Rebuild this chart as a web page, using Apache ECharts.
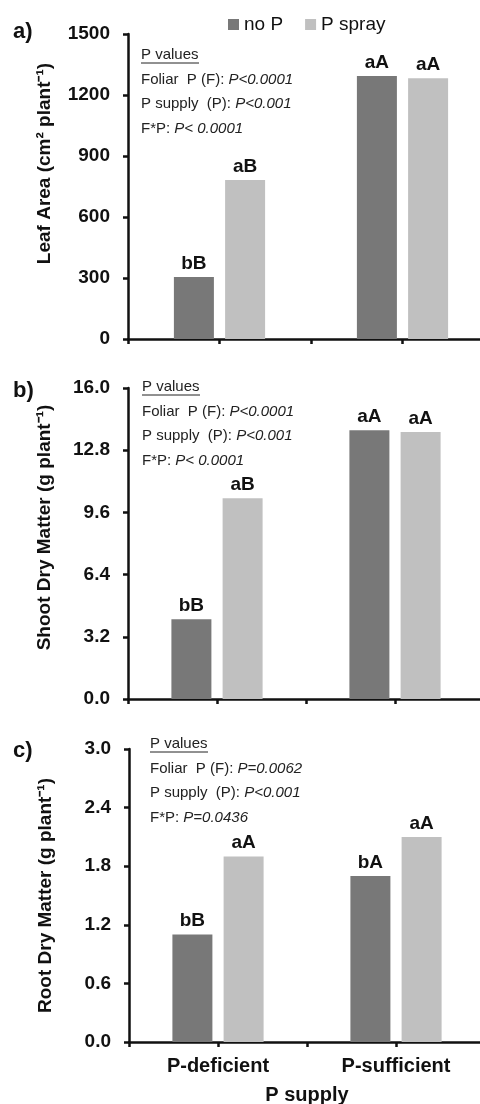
<!DOCTYPE html>
<html>
<head>
<meta charset="utf-8">
<script src="https://cdn.jsdelivr.net/npm/echarts@6/dist/echarts.min.js"></script>
<style>
html,body{margin:0;padding:0;background:#fff;}
#main{width:480px;height:1104px;}
</style>
</head>
<body>
<div id="main"></div>
<script>
// ---- data ----
const categories = ['P-deficient', 'P-sufficient'];
const seriesNames = ['no P', 'P spray'];

const leafNoP = [305, 1293];
const leafSpray = [782, 1282];
const leafLettersNoP = ['bB', 'aA'];
const leafLettersSpray = ['aB', 'aA'];

const shootNoP = [4.1, 13.82];
const shootSpray = [10.33, 13.73];
const shootLettersNoP = ['bB', 'aA'];
const shootLettersSpray = ['aB', 'aA'];

const rootNoP = [1.10, 1.70];
const rootSpray = [1.90, 2.10];
const rootLettersNoP = ['bB', 'bA'];
const rootLettersSpray = ['aA', 'aA'];

const leafAxis = { max: 1500, interval: 300, decimals: 0 };
const shootAxis = { max: 16, interval: 3.2, decimals: 1 };
const rootAxis = { max: 3, interval: 0.6, decimals: 1 };

const pValuesA = ['P<0.0001', 'P<0.001', 'P< 0.0001'];
const pValuesB = ['P<0.0001', 'P<0.001', 'P< 0.0001'];
const pValuesC = ['P=0.0062', 'P<0.001', 'P=0.0436'];

// ---- styles ----
const FONT = '"Liberation Sans", Arial, sans-serif';
const DARK = '#787878';
const LIGHT = '#c0c0c0';
const INK = '#111';

const grids = [
  { left: 128, top: 34, width: 366, height: 305, outerBoundsMode: 'none', containLabel: false },
  { left: 128, top: 388, width: 356, height: 311, outerBoundsMode: 'none', containLabel: false },
  { left: 129, top: 749, width: 356, height: 293, outerBoundsMode: 'none', containLabel: false }
];

const yNames = ['Leaf Area (cm² plant⁻¹)', 'Shoot Dry Matter (g plant⁻¹)', 'Root Dry Matter (g plant⁻¹)'];
const yNameShift = [46, 32, 0];
const yAxesCfg = [leafAxis, shootAxis, rootAxis];

const xAxis = [];
const yAxis = [];
grids.forEach((g, i) => {
  const isLast = i === 2;
  xAxis.push({
    type: 'category', gridIndex: i, data: categories, position: 'bottom',
    boundaryGap: true,
    axisLine: { show: true, lineStyle: { color: INK, width: 2.5 } },
    axisTick: { show: true, alignWithLabel: false, length: 5, lineStyle: { color: INK, width: 2.5 } },
    axisLabel: { show: isLast, fontFamily: FONT, fontWeight: 'bold', fontSize: 20, color: INK, margin: 14 },
    name: isLast ? 'P supply' : '',
    nameLocation: 'middle', nameGap: 43,
    nameTextStyle: { fontFamily: FONT, fontWeight: 'bold', fontSize: 20, color: INK }
  });
  xAxis.push({
    type: 'category', gridIndex: i, data: categories, position: 'bottom',
    boundaryGap: true,
    axisLine: { show: false },
    axisTick: { show: true, alignWithLabel: true, length: 5, lineStyle: { color: INK, width: 2.5 } },
    axisLabel: { show: false }
  });
  const cfg = yAxesCfg[i];
  yAxis.push({
    type: 'value', gridIndex: i, min: 0, max: cfg.max, interval: cfg.interval,
    axisLine: { show: true, lineStyle: { color: INK, width: 2.5 } },
    axisTick: { show: true, length: 5, lineStyle: { color: INK, width: 2.5 } },
    splitLine: { show: false },
    axisLabel: {
      fontFamily: FONT, fontWeight: 'bold', fontSize: 19, color: INK, margin: 18,
      formatter: v => Number(v).toFixed(cfg.decimals)
    },
    name: yNames[i], nameLocation: 'middle', nameGap: 74, nameRotate: 90,
    nameTextStyle: { fontFamily: FONT, fontWeight: 'bold', fontSize: 19, color: INK,
      padding: [0, 0, 0, yNameShift[i]] }
  });
});

function barSeries(name, gridIdx, data, letters, color) {
  return {
    name: name, type: 'bar', xAxisIndex: gridIdx * 2, yAxisIndex: gridIdx,
    data: data, barWidth: 40, barGap: '28%',
    itemStyle: { color: color },
    label: {
      show: true, position: 'top', distance: 4,
      fontFamily: FONT, fontWeight: 'bold', fontSize: 19, color: INK,
      formatter: p => letters[p.dataIndex]
    }
  };
}

const series = [
  barSeries(seriesNames[0], 0, leafNoP, leafLettersNoP, DARK),
  barSeries(seriesNames[1], 0, leafSpray, leafLettersSpray, LIGHT),
  barSeries(seriesNames[0], 1, shootNoP, shootLettersNoP, DARK),
  barSeries(seriesNames[1], 1, shootSpray, shootLettersSpray, LIGHT),
  barSeries(seriesNames[0], 2, rootNoP, rootLettersNoP, DARK),
  barSeries(seriesNames[1], 2, rootSpray, rootLettersSpray, LIGHT)
];

// ---- annotations ----
const graphic = [];
const panelLabels = [['a)', 33], ['b)', 392], ['c)', 752]];
panelLabels.forEach(([t, y]) => {
  graphic.push({ type: 'text', left: 13, top: y - 12,
    style: { text: t, font: 'bold 22px ' + FONT, fill: INK } });
});

function pBlock(x, yTop, vals) {
  const lines = ['Foliar  P (F): ', 'P supply  (P): ', 'F*P: '];
  graphic.push({ type: 'text', x: x, y: yTop, style: {
    text: 'P values', font: '15px ' + FONT, fill: '#222', verticalAlign: 'middle' } });
  graphic.push({ type: 'line', shape: { x1: x, y1: yTop + 8, x2: x + 58, y2: yTop + 8 },
    style: { stroke: '#222', lineWidth: 1 } });
  lines.forEach((l, k) => {
    graphic.push({ type: 'text', x: x, y: yTop + 24.5 * (k + 1), style: {
      text: l + '{i|' + vals[k] + '}', font: '15px ' + FONT, fill: '#222', verticalAlign: 'middle',
      rich: { i: { fontStyle: 'italic', fontSize: 15, fontFamily: FONT, fill: '#222' } } } });
  });
}
pBlock(141, 55, pValuesA);
pBlock(142, 387, pValuesB);
pBlock(150, 744, pValuesC);

const chart = echarts.init(document.getElementById('main'), null, { renderer: 'canvas' });
chart.setOption({
  animation: false,
  backgroundColor: '#fff',
  textStyle: { fontFamily: FONT },
  legend: {
    data: seriesNames, left: 223, top: 10, itemWidth: 11, itemHeight: 11, itemGap: 22,
    icon: 'rect',
    textStyle: { fontFamily: FONT, fontSize: 19, color: INK }
  },
  grid: grids,
  xAxis: xAxis,
  yAxis: yAxis,
  series: series,
  graphic: graphic
});
</script>
</body>
</html>
